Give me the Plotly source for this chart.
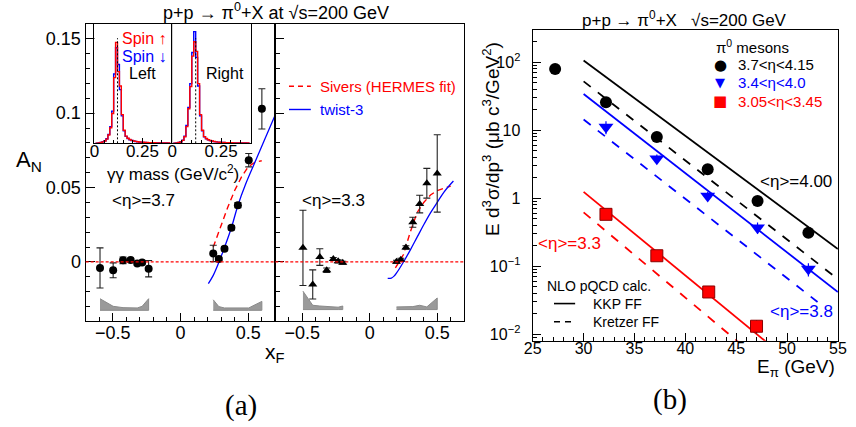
import plotly.graph_objects as go

W, H = 856, 427
FONT = "Liberation Sans, Arial, sans-serif"
SERIF = "Liberation Serif, Times New Roman, serif"
RED, BLUE, BLACK, GREY = "#ff0000", "#0000ff", "#000000", "#9a9a9a"


def fx(p):
    return p / W


def fy(p):
    return 1 - p / H


# ---------------- (a) A_N vs x_F ----------------
# <eta> = 3.7 (circles)
xf_37 = [-0.594, -0.497, -0.424, -0.368, -0.319, -0.283, -0.235,
         0.242, 0.283, 0.325, 0.376, 0.424, 0.504, 0.601]
an_37 = [-0.0040, -0.0056, 0.0011, 0.0013, -0.0010, -0.0003, -0.0045,
         0.0057, 0.0020, 0.0089, 0.0230, 0.0382, 0.0684, 0.1029]
err_37 = [0.0135, 0.0050, 0.0022, 0.0012, 0.0010, 0.0010, 0.0055,
          0.0055, 0.0012, 0.0014, 0.0014, 0.0018, 0.0045, 0.0135]
# <eta> = 3.3 (triangles)
xf_33 = [-0.495, -0.4225, -0.370, -0.319, -0.270, -0.234, -0.200,
         0.198, 0.230, 0.268, 0.319, 0.370, 0.423, 0.500]
an_33 = [0.0095, -0.0151, 0.0033, -0.0056, 0.0020, 0.0004, -0.0005,
         0.0002, 0.0015, 0.0097, 0.0267, 0.0389, 0.0529, 0.0595]
err_33 = [0.0253, 0.0098, 0.0056, 0.0015, 0.0010, 0.0010, 0.0010,
          0.0010, 0.0010, 0.0012, 0.0034, 0.0059, 0.0100, 0.0260]

# systematic-uncertainty bands (height above the band baseline)
sys_37_neg = [0.0078, 0.0027, 0.0018, 0.0016, 0.0016, 0.0027, 0.0078]
sys_37_pos = [0.0071, 0.0025, 0.0016, 0.0016, 0.0018, 0.0016, 0.0060]
sys_33_neg = [0.0124, 0.0029, 0.0024, 0.0022, 0.0018, 0.0016, 0.0024]
sys_33_pos = [0.0018, 0.0018, 0.0018, 0.0020, 0.0029, 0.0018, 0.0078]
band_base_37 = -0.0325
band_base_33 = -0.0320

# model curves
sivers_37_x = [0.242, 0.30, 0.35, 0.40, 0.45, 0.50, 0.55, 0.60]
sivers_37_y = [0.010, 0.025, 0.037, 0.048, 0.057, 0.064, 0.067, 0.068]
twist_37_x = [0.206, 0.242, 0.28, 0.33, 0.376, 0.424, 0.48, 0.545, 0.62, 0.705]
twist_37_y = [-0.0145, -0.009, -0.001, 0.011, 0.023, 0.038, 0.052, 0.066, 0.082, 0.100]
sivers_33_x = [0.19, 0.25, 0.30, 0.35, 0.40, 0.45, 0.50, 0.60]
sivers_33_y = [-0.004, 0.005, 0.020, 0.033, 0.040, 0.045, 0.048, 0.051]
twist_33_x = [0.133, 0.16, 0.18, 0.20, 0.25, 0.30, 0.35, 0.40, 0.45, 0.50, 0.55, 0.62]
twist_33_y = [-0.011, -0.0108, -0.0095, -0.0072, 0.0, 0.008, 0.0165, 0.025,
              0.033, 0.040, 0.047, 0.0544]

# inset: diphoton invariant-mass spectra (normalised counts), 0.01 GeV bins
mass_bins = [0.005, 0.015, 0.025, 0.035, 0.045, 0.055, 0.065, 0.075, 0.085, 0.095,
             0.105, 0.115, 0.125, 0.135, 0.145, 0.155, 0.165, 0.175, 0.185, 0.195,
             0.205, 0.215, 0.225, 0.235, 0.245, 0.255, 0.265, 0.275, 0.285, 0.295,
             0.305, 0.315, 0.325, 0.335, 0.345, 0.355, 0.365, 0.375, 0.385, 0.395]
left_up = [0.000, 0.002, 0.004, 0.007, 0.012, 0.020, 0.035, 0.070, 0.130, 0.250,
           0.550, 0.845, 0.600, 0.480, 0.240, 0.110, 0.060, 0.042, 0.032, 0.025,
           0.020, 0.016, 0.013, 0.011, 0.010, 0.009, 0.008, 0.007, 0.006, 0.006,
           0.005, 0.005, 0.004, 0.004, 0.004, 0.003, 0.003, 0.003, 0.003, 0.003]
left_down = [0.000, 0.002, 0.004, 0.008, 0.013, 0.022, 0.038, 0.075, 0.140, 0.270,
             0.580, 0.800, 0.660, 0.450, 0.230, 0.105, 0.058, 0.040, 0.030, 0.024,
             0.019, 0.015, 0.012, 0.010, 0.009, 0.008, 0.007, 0.006, 0.006, 0.005,
             0.005, 0.004, 0.004, 0.004, 0.003, 0.003, 0.003, 0.003, 0.002, 0.002]
right_up = [0.000, 0.002, 0.004, 0.007, 0.012, 0.025, 0.055, 0.140, 0.290, 0.475,
            0.730, 0.850, 0.770, 0.500, 0.240, 0.110, 0.056, 0.040, 0.030, 0.024,
            0.019, 0.015, 0.012, 0.010, 0.009, 0.008, 0.007, 0.006, 0.006, 0.005,
            0.005, 0.004, 0.004, 0.004, 0.003, 0.003, 0.003, 0.003, 0.003, 0.003]
right_down = [0.000, 0.002, 0.004, 0.008, 0.013, 0.027, 0.060, 0.150, 0.300, 0.500,
              0.760, 0.935, 0.720, 0.480, 0.230, 0.105, 0.055, 0.038, 0.029, 0.023,
              0.018, 0.014, 0.012, 0.010, 0.009, 0.008, 0.007, 0.006, 0.005, 0.005,
              0.004, 0.004, 0.004, 0.003, 0.003, 0.003, 0.003, 0.003, 0.002, 0.002]
pi0_peak = 0.12

# ---------------- (b) cross sections ----------------
e_37 = [27.2, 32.2, 37.2, 42.2, 47.1, 52.1]
xs_37 = [79.0, 25.7, 7.9, 2.66, 0.91, 0.31]
e_38 = [32.2, 37.2, 42.2, 47.1, 52.1]
xs_38 = [11.1, 3.8, 1.08, 0.37, 0.091]
err_38 = [2.4, 0.6, 0.16, 0.07, 0.02]
e_33 = [32.2, 37.2, 42.3, 47.0]
xs_33 = [0.58, 0.143, 0.042, 0.0132]
err_33b = [0.05, 0.012, 0.004, 0.003]

# NLO pQCD curves (KKP solid, Kretzer dashed)
kkp_400_e, kkp_400 = [30, 55], [105.0, 0.18]
kre_400_e, kre_400 = [30, 55], [52.0, 0.065]
kkp_380_e, kkp_380 = [30, 55], [34.0, 0.042]
kre_380_e, kre_380 = [30, 53], [14.3, 0.030]
kkp_330_e, kkp_330 = [30, 55], [1.24, 0.00106]
kre_330_e, kre_330 = [30, 55], [0.62, 0.00046]

fig = go.Figure()


def add(tr, xa, ya):
    tr.update(xaxis=xa, yaxis=ya, showlegend=False, hoverinfo="skip")
    fig.add_trace(tr)


def band(xs, hs, base, xa, ya):
    poly_x = list(xs) + list(xs[::-1])
    poly_y = [base + h for h in hs] + [base] * len(xs)
    add(go.Scatter(x=poly_x, y=poly_y, mode="lines", fill="toself",
                   fillcolor=GREY, line=dict(color="#8a8a8a", width=1)), xa, ya)


# left sub-panel (<eta>=3.7)
band(xf_37[:7], sys_37_neg, band_base_37, "x", "y")
band(xf_37[7:], sys_37_pos, band_base_37, "x", "y")
add(go.Scatter(x=sivers_37_x, y=sivers_37_y, mode="lines",
               line=dict(color=RED, width=1.4, dash="6px,4px")), "x", "y")
add(go.Scatter(x=twist_37_x, y=twist_37_y, mode="lines", line_shape="spline",
               line=dict(color=BLUE, width=1.3)), "x", "y")
add(go.Scatter(x=xf_37, y=an_37, mode="markers",
               marker=dict(symbol="circle", size=8, color=BLACK),
               error_y=dict(type="data", array=err_37, color="#222", thickness=1.1, width=3.5)),
    "x", "y")

# right sub-panel (<eta>=3.3)
band(xf_33[:7], sys_33_neg, band_base_33, "x2", "y2")
band(xf_33[7:], sys_33_pos, band_base_33, "x2", "y2")
add(go.Scatter(x=sivers_33_x, y=sivers_33_y, mode="lines",
               line=dict(color=RED, width=1.4, dash="6px,4px")), "x2", "y2")
add(go.Scatter(x=twist_33_x, y=twist_33_y, mode="lines", line_shape="spline",
               line=dict(color=BLUE, width=1.3)), "x2", "y2")
add(go.Scatter(x=xf_33, y=an_33, mode="markers",
               marker=dict(symbol="triangle-up", size=8, color=BLACK),
               error_y=dict(type="data", array=err_33, color="#222", thickness=1.1, width=3.5)),
    "x2", "y2")

# inset histograms
for xa, ya, up, down in (("x3", "y3", left_up, left_down), ("x4", "y4", right_up, right_down)):
    add(go.Scatter(x=mass_bins, y=down, mode="lines", line_shape="hvh",
                   line=dict(color=BLUE, width=1.4)), xa, ya)
    add(go.Scatter(x=mass_bins, y=up, mode="lines", line_shape="hvh",
                   line=dict(color=RED, width=1.4)), xa, ya)

# panel (b)
for ex, yv, col, dash in ((kkp_400_e, kkp_400, BLACK, "solid"), (kre_400_e, kre_400, BLACK, "dash"),
                          (kkp_380_e, kkp_380, BLUE, "solid"), (kre_380_e, kre_380, BLUE, "dash"),
                          (kkp_330_e, kkp_330, RED, "solid"), (kre_330_e, kre_330, RED, "dash")):
    add(go.Scatter(x=ex, y=yv, mode="lines", line=dict(color=col, width=1.8, dash=dash)), "x5", "y5")
add(go.Scatter(x=e_37, y=xs_37, mode="markers",
               marker=dict(symbol="circle", size=12, color=BLACK)), "x5", "y5")
add(go.Scatter(x=e_38, y=xs_38, mode="markers",
               marker=dict(symbol="triangle-down", size=13, color=BLUE),
               error_y=dict(type="data", array=err_38, color=BLUE, thickness=1.2, width=0)), "x5", "y5")
add(go.Scatter(x=e_33, y=xs_33, mode="markers",
               marker=dict(symbol="square", size=12, color=RED, line=dict(color="#8b0000", width=1)),
               error_y=dict(type="data", array=err_33b, color="#333", thickness=1.2, width=0)), "x5", "y5")

# ---------------- axes ----------------
frame = dict(showline=True, linecolor=BLACK, linewidth=1.3, mirror=True,
             showgrid=False, zeroline=False)
tickfont = dict(family=FONT, size=18, color=BLACK)

ax_a_x = dict(frame, range=[-0.7, 0.7], tickvals=[-0.5, 0, 0.5], ticks="inside", ticklen=8,
              tickcolor=BLACK, tickfont=tickfont, ticklabelstandoff=-5,
              minor=dict(dtick=0.1, tick0=0, ticks="inside", ticklen=4, tickcolor=BLACK))
ax_a_y = dict(frame, range=[-0.04, 0.16], tickvals=[0, 0.05, 0.1, 0.15], ticks="inside",
              ticklen=9, tickcolor=BLACK, tickfont=tickfont, ticklabelstandoff=0,
              minor=dict(dtick=0.01, tick0=0, ticks="inside", ticklen=4.5, tickcolor=BLACK))

x_a1 = [fx(78.3), fx(272)]
x_a2 = [fx(272), fx(465)]
y_a = [fy(323), fy(24)]

fig.update_layout(
    xaxis=dict(ax_a_x, domain=x_a1, anchor="y"),
    yaxis=dict(ax_a_y, domain=y_a, anchor="x"),
    xaxis2=dict(ax_a_x, domain=x_a2, anchor="y2"),
    yaxis2=dict(ax_a_y, domain=y_a, anchor="x2", showticklabels=False),
)

ins_x = dict(frame, range=[0, 0.405], tickvals=[0, 0.25], ticktext=["0", "0.25"], ticks="inside",
             ticklen=5, tickcolor=BLACK, tickfont=dict(family=FONT, size=17, color=BLACK),
             ticklabelstandoff=-8,
             minor=dict(dtick=0.05, tick0=0, ticks="inside", ticklen=3, tickcolor=BLACK))
ins_y = dict(frame, range=[0, 1.0], showticklabels=False, ticks="")
y_ins = [fy(144), fy(24)]
fig.update_layout(
    xaxis3=dict(ins_x, domain=[fx(87.3), fx(166.7)], anchor="y3"),
    yaxis3=dict(ins_y, domain=y_ins, anchor="x3"),
    xaxis4=dict(ins_x, domain=[fx(166.7), fx(246.7)], anchor="y4", range=[0, 0.40]),
    yaxis4=dict(ins_y, domain=y_ins, anchor="x4"),
)

minor_log = [m * 10 ** d for d in (-3, -2, -1, 0, 1, 2) for m in range(2, 10)]
fig.update_layout(
    xaxis5=dict(frame, domain=[fx(535), fx(846.7)], anchor="y5", range=[25, 55], dtick=5, tick0=25,
                ticks="inside", ticklen=8, tickcolor=BLACK,
                tickfont=dict(family=FONT, size=16, color=BLACK), ticklabelstandoff=-7,
                minor=dict(dtick=1, ticks="inside", ticklen=4, tickcolor=BLACK)),
    yaxis5=dict(frame, domain=[fy(342.3), fy(30)], anchor="x5", type="log", range=[-2.092, 2.472],
                tickvals=[0.01, 0.1, 1, 10, 100],
                ticktext=["10<sup>−2</sup>", "10<sup>−1</sup>", "1", "10", "10<sup>2</sup>"],
                ticks="inside", ticklen=8, tickcolor=BLACK,
                tickfont=dict(family=FONT, size=16, color=BLACK), ticklabelstandoff=8,
                minor=dict(tickvals=minor_log, ticks="inside", ticklen=4, tickcolor=BLACK)),
)

# ---------------- reference lines and legend samples ----------------
shapes = []
for xa, ya in (("x", "y"), ("x2", "y2")):
    shapes.append(dict(type="line", xref=xa + " domain", yref=ya, x0=0, x1=1, y0=0, y1=0,
                       line=dict(color=RED, width=1.2, dash="3px,2px")))
for xa, ya in (("x3", "y3"), ("x4", "y4")):
    shapes.append(dict(type="line", xref=xa, yref=ya + " domain", x0=pi0_peak, x1=pi0_peak,
                       y0=0, y1=0.88, line=dict(color=BLACK, width=1, dash="2px,2px")))


def sample(x0, x1, y, col, dash, w=1.4):
    shapes.append(dict(type="line", xref="paper", yref="paper", x0=fx(x0), x1=fx(x1),
                       y0=fy(y), y1=fy(y), line=dict(color=col, width=w, dash=dash)))


sample(286, 308.3, 86.7, RED, "5px,4px")
sample(286, 308.3, 110, BLUE, "solid")
sample(556.7, 578.3, 305, BLACK, "solid", 1.6)
sample(556.7, 578.3, 323.3, BLACK, "6px,5px", 1.6)
fig.update_layout(shapes=shapes)

# ---------------- texts ----------------
ann = []


def text(x, y, s, size=16, color=BLACK, anchor="center", family=FONT):
    ann.append(dict(xref="paper", yref="paper", x=fx(x), y=fy(y), text=s, showarrow=False,
                    xanchor=anchor, yanchor="middle",
                    font=dict(family=family, size=size, color=color)))


text(273, 12, "p+p → π<sup>0</sup>+X at √s=200 GeV", 18)
text(20, 162, "A<sub>N</sub>", 22)
text(272, 355, "x<sub>F</sub>", 21)
text(237, 407, "(a)", 29, family=SERIF)
text(137, 201.7, "&lt;η&gt;=3.7", 17)
text(331, 201.7, "&lt;η&gt;=3.3", 17)
text(316, 86.7, "Sivers (HERMES fit)", 15, RED, "left")
text(316, 110, "twist-3", 15, BLUE, "left")
text(138, 39, "Spin ↑", 16, RED)
text(138, 57, "Spin ↓", 16, BLUE)
text(136, 74, "Left", 16)
text(221, 74, "Right", 16)
text(168, 174, "γγ mass (GeV/c<sup>2</sup>)", 17)

text(690, 19, "p+p → π<sup>0</sup>+X\u00a0\u00a0\u00a0√s=200 GeV", 17)
text(720, 46.7, "π<sup>0</sup> mesons", 15, anchor="left")
text(726.7, 65, "●", 15, BLACK, family="DejaVu Sans")
text(726.7, 83.3, "▼", 13, BLUE, family="DejaVu Sans")
text(726.7, 101.7, "■", 15, RED, family="DejaVu Sans")
text(743, 65, "3.7&lt;η&lt;4.15", 15, BLACK, "left")
text(743, 83.3, "3.4&lt;η&lt;4.0", 15, BLUE, "left")
text(743, 101.7, "3.05&lt;η&lt;3.45", 15, RED, "left")
text(804, 182.7, "&lt;η&gt;=4.00", 17)
text(573, 245, "&lt;η&gt;=3.3", 17, RED)
text(810, 313.3, "&lt;η&gt;=3.8", 17, BLUE)
text(548, 287.3, "NLO pQCD calc.", 14, anchor="left")
text(595, 305, "KKP FF", 14, anchor="left")
text(595, 323.3, "Kretzer FF", 14, anchor="left")
text(846, 370, "E<sub>π</sub> (GeV)", 19, anchor="right")
text(675, 401, "(b)", 29, family=SERIF)
ann.append(dict(xref="paper", yref="paper", x=fx(493), y=fy(140), textangle=-90,
                text="E d<sup>3</sup>σ/dp<sup>3</sup> (μb c<sup>3</sup>/GeV<sup>2</sup>)",
                showarrow=False, xanchor="center", yanchor="middle",
                font=dict(family=FONT, size=19, color=BLACK)))

fig.update_layout(annotations=ann, width=W, height=H, margin=dict(l=0, r=0, t=0, b=0),
                  paper_bgcolor="white", plot_bgcolor="white", showlegend=False,
                  font=dict(family=FONT, color=BLACK))

fig.write_html("out.html")
